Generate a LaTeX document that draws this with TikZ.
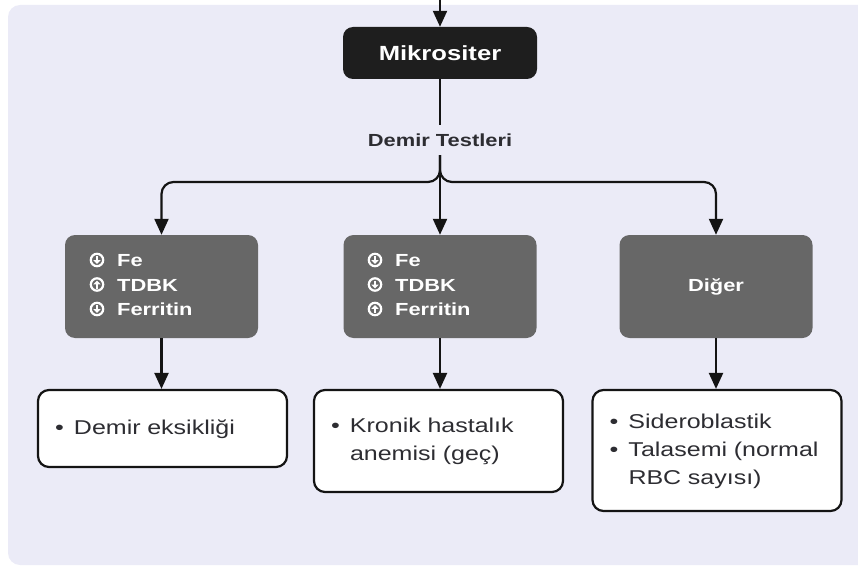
\documentclass[tikz,border=0pt]{standalone}
\usepackage{fontspec}
\setmainfont{Liberation Sans}[FakeStretch=1.25]
\usetikzlibrary{arrows.meta,calc}
\definecolor{bgc}{RGB}{235,235,247}
\definecolor{darkc}{RGB}{30,30,30}
\definecolor{grayc}{RGB}{103,103,103}
\definecolor{linec}{RGB}{20,20,20}
\definecolor{txtc}{RGB}{45,45,50}
\tikzset{
  pics/icondn/.style={code={
    \draw[white, line width=2.2pt] (0,0) circle[radius=6.2pt];
    \fill[white] (-3.6,0.2) -- (3.6,0.2) -- (0,4.0) -- cycle;
    \draw[white, line width=2pt] (0,-4.0) -- (0,0.8);
  }},
  pics/iconup/.style={code={
    \draw[white, line width=2.2pt] (0,0) circle[radius=6.2pt];
    \fill[white] (-3.6,-0.2) -- (3.6,-0.2) -- (0,-4.0) -- cycle;
    \draw[white, line width=2pt] (0,4.0) -- (0,-0.8);
  }}
}
\begin{document}
\begin{tikzpicture}[x=1pt,y=-1pt,
  conn/.style={draw=linec, line width=2.2pt},
  arr/.style={conn, -{Triangle[length=16pt,width=14pt]}},
  darkbox/.style={fill=darkc, rounded corners=10pt, minimum width=194pt, minimum height=52pt,
    inner sep=0pt, text=white, font=\fontsize{20.5}{24}\selectfont\bfseries},
  graybox/.style={fill=grayc, rounded corners=10pt, minimum width=193pt, minimum height=103pt,
    inner sep=0pt, text=white, font=\fontsize{17.5}{21}\selectfont\bfseries},
  gtext/.style={text=white, font=\fontsize{17.5}{21}\selectfont\bfseries, inner sep=0pt, anchor=base west},
  whitebox/.style={draw=linec, line width=2.2pt, fill=white, rounded corners=11pt,
    minimum width=249pt, text width=215pt, inner xsep=17pt, inner ysep=0pt, align=left,
    text=txtc, font=\fontsize{20}{28}\selectfont},
  lblstyle/.style={font=\fontsize{17.5}{20}\selectfont\bfseries, text=txtc, inner xsep=2pt, inner ysep=8.5pt}
]
\useasboundingbox (0,0) rectangle (858,569);
\begin{scope}
  \clip (0,0) rectangle (858,569);
  \fill[bgc, rounded corners=12pt] (8,5) rectangle (880,565);
\end{scope}

% nodes
\node[darkbox] (mik) at (440,53) {Mikrositer};
\node[lblstyle] (lbl) at (440,140) {Demir Testleri};
\coordinate (top) at (440,-5);
\coordinate (jn) at (440,182);

\node[graybox] (g1) at (161.5,286.5) {};
\node[graybox] (g2) at (440,286.5) {};
\node[graybox] (g3) at (716,286.5) {Diğer};

\node[gtext] (g1a) at (117,266.5) {Fe};
\node[gtext] (g1b) at (117,291) {TDBK};
\node[gtext] (g1c) at (117,315.5) {Ferritin};
\node[gtext] (g2a) at (395,266.5) {Fe};
\node[gtext] (g2b) at (395,291) {TDBK};
\node[gtext] (g2c) at (395,315.5) {Ferritin};
\pic at (97,260) {icondn};
\pic at (97,284.5) {iconup};
\pic at (97,309) {icondn};
\pic at (375,260) {icondn};
\pic at (375,284.5) {icondn};
\pic at (375,309) {iconup};

\node[whitebox, minimum height=77pt] (w1) at (162.5,428.5)
  {\begin{tabular}{@{}p{19pt}@{}l@{}}\textbullet & Demir eksikliği\end{tabular}};
\node[whitebox, minimum height=102pt] (w2) at (438.5,441)
  {\begin{tabular}{@{}p{19pt}@{}l@{}}\textbullet & Kronik hastalık\\ & anemisi (geç)\end{tabular}};
\node[whitebox, minimum height=121pt] (w3) at (717,450.5)
  {\begin{tabular}{@{}p{19pt}@{}l@{}}\textbullet & Sideroblastik\\ \textbullet & Talasemi (normal\\ & RBC sayısı)\end{tabular}};

% connectors
\draw[arr] (top) -- (mik.north);
\draw[conn] (mik.south) -- (lbl.north);
\draw[arr] (lbl.south) -- (g2.north);
\draw[arr, rounded corners=12pt] (lbl.south) -- (jn) -- (g1.north |- jn) -- (g1.north);
\draw[arr, rounded corners=12pt] (lbl.south) -- (jn) -- (g3.north |- jn) -- (g3.north);
\draw[arr] (g1.south) -- (g1.south |- w1.north);
\draw[arr] (g2.south) -- (g2.south |- w2.north);
\draw[arr] (g3.south) -- (g3.south |- w3.north);
\end{tikzpicture}
\end{document}
